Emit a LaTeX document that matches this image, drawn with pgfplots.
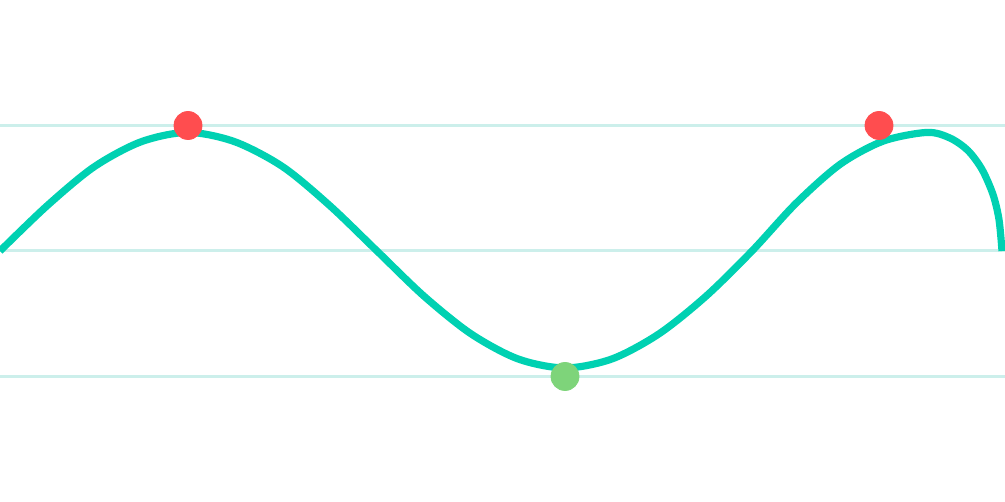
\documentclass[border=0pt]{standalone}
\usepackage{pgfplots}
\pgfplotsset{compat=1.18}
\definecolor{wave}{RGB}{0,209,178}
\definecolor{gridc}{RGB}{204,239,235}
\definecolor{peak}{RGB}{255,77,79}
\definecolor{trough}{RGB}{126,212,122}
\begin{document}
\begin{tikzpicture}
\begin{axis}[
    scale only axis,
    width=502.5pt, height=251pt,
    xmin=0, xmax=1005,
    ymin=-2, ymax=2,
    xtick=\empty,
    ytick={-1,0,1},
    yticklabels={},
    major tick length=0pt,
    ymajorgrids=true,
    grid style={gridc, line width=1.5pt},
    axis line style={draw=none},
]
    \coordinate (sw) at (rel axis cs:0,0);
    \coordinate (ne) at (rel axis cs:1,1);
    % curve
    \addplot[wave, line width=3.6pt, smooth, mark=none]
    coordinates {
    (0,0)(47,0.36)(94,0.67)(141,0.87)(188,0.945)(235,0.87)(283,0.67)(330,0.36)
    (377,0)(424,-0.36)(471,-0.66)(518,-0.86)(565,-0.932)(612,-0.86)(659,-0.66)
    (706,-0.36)(752,0)(796,0.38)(840,0.69)(883,0.875)(927,0.945)(950,0.90)
    (968,0.80)(982,0.65)(993,0.45)(999,0.25)(1002,0)
    };
    % max points
    \addplot[only marks, mark=*, mark size=7pt, peak, mark options={draw=none, fill=peak}]
    coordinates {(188,1)(879,1)};
    % min point
    \addplot[only marks, mark=*, mark size=7pt, trough, mark options={draw=none, fill=trough}]
    coordinates {(565,-1)};
\end{axis}
\pgfresetboundingbox
\path (sw) rectangle (ne);
\end{tikzpicture}
\end{document}
